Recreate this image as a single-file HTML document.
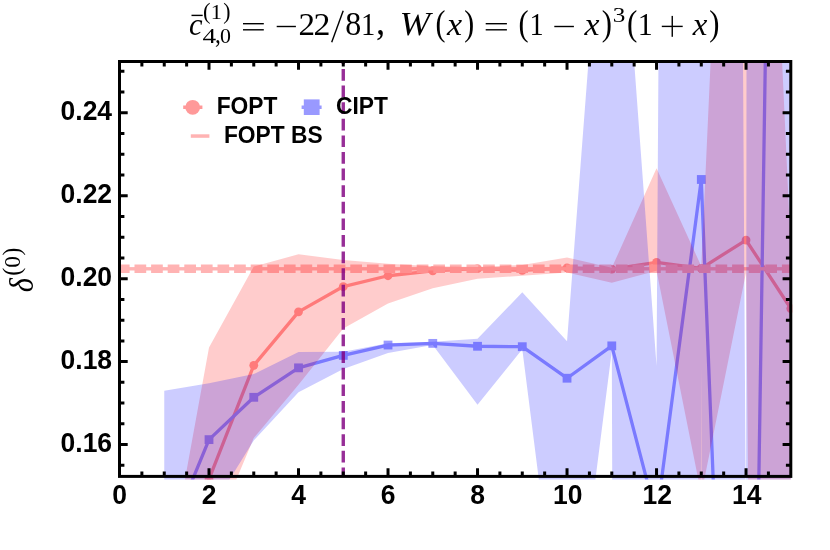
<!DOCTYPE html>
<html><head><meta charset="utf-8"><title>plot</title>
<style>html,body{margin:0;padding:0;background:#fff;}svg{display:block;}text{font-family:"Liberation Sans",sans-serif;}.tx{filter:grayscale(1);}.ser{font-family:"Liberation Serif",serif;}</style></head><body>
<svg width="830" height="550" viewBox="0 0 830 550">
<rect width="830" height="550" fill="#fff"/>
<defs><clipPath id="cp"><rect x="118.00" y="60.00" width="674.30" height="419.40"/></clipPath></defs>
<g clip-path="url(#cp)">
<g fill="#ff9999">
<polyline points="164.25,610.55 209.01,479.03 253.76,365.36 298.51,311.84 343.27,286.53 388.02,275.75 432.77,270.77 477.53,268.69 522.28,270.35 567.03,267.86 611.79,269.11 656.54,262.47 701.29,268.28 746.05,240.07 790.80,308.52" fill="none" stroke="#ff9999" stroke-width="3.3" stroke-linejoin="round"/>
<circle cx="164.25" cy="610.55" r="4.4"/>
<circle cx="209.01" cy="479.03" r="4.4"/>
<circle cx="253.76" cy="365.36" r="4.4"/>
<circle cx="298.51" cy="311.84" r="4.4"/>
<circle cx="343.27" cy="286.53" r="4.4"/>
<circle cx="388.02" cy="275.75" r="4.4"/>
<circle cx="432.77" cy="270.77" r="4.4"/>
<circle cx="477.53" cy="268.69" r="4.4"/>
<circle cx="522.28" cy="270.35" r="4.4"/>
<circle cx="567.03" cy="267.86" r="4.4"/>
<circle cx="611.79" cy="269.11" r="4.4"/>
<circle cx="656.54" cy="262.47" r="4.4"/>
<circle cx="701.29" cy="268.28" r="4.4"/>
<circle cx="746.05" cy="240.07" r="4.4"/>
<circle cx="790.80" cy="308.52" r="4.4"/>
</g>
<g fill="#9999ff">
<polyline points="164.25,548.32 209.01,439.62 253.76,397.30 298.51,367.85 343.27,355.40 388.02,345.03 432.77,343.37 477.53,346.27 522.28,346.69 567.03,378.22 611.79,345.86 656.54,517.20 701.29,179.49 746.05,1307.54 790.80,-1588.29" fill="none" stroke="#9999ff" stroke-width="3.3" stroke-linejoin="round"/>
<rect x="159.85" y="543.92" width="8.8" height="8.8"/>
<rect x="204.61" y="435.22" width="8.8" height="8.8"/>
<rect x="249.36" y="392.90" width="8.8" height="8.8"/>
<rect x="294.11" y="363.45" width="8.8" height="8.8"/>
<rect x="338.87" y="351.00" width="8.8" height="8.8"/>
<rect x="383.62" y="340.63" width="8.8" height="8.8"/>
<rect x="428.37" y="338.97" width="8.8" height="8.8"/>
<rect x="473.13" y="341.87" width="8.8" height="8.8"/>
<rect x="517.88" y="342.29" width="8.8" height="8.8"/>
<rect x="562.63" y="373.82" width="8.8" height="8.8"/>
<rect x="607.39" y="341.46" width="8.8" height="8.8"/>
<rect x="652.14" y="512.80" width="8.8" height="8.8"/>
<rect x="696.89" y="175.09" width="8.8" height="8.8"/>
<rect x="741.65" y="1303.14" width="8.8" height="8.8"/>
<rect x="786.40" y="-1592.69" width="8.8" height="8.8"/>
</g>
<rect x="119.50" y="267.1" width="671.30" height="3.4" fill="#ffb3b3"/>
<line x1="119.50" y1="268.8" x2="790.80" y2="268.8" stroke="#ffb3b3" stroke-width="8.6" stroke-dasharray="11.7 4.9" stroke-dashoffset="1.6"/>
<polygon points="164.25,593.13 209.01,347.52 253.76,266.62 298.51,254.17 343.27,259.98 388.02,263.71 432.77,266.20 477.53,267.03 522.28,264.96 567.03,257.49 611.79,267.86 656.54,168.29 701.29,266.20 746.05,-717.05 790.80,249.61 790.80,4800.79 746.05,272.43 701.29,494.39 656.54,270.77 611.79,282.80 567.03,272.43 522.28,275.75 477.53,278.65 432.77,288.19 388.02,303.54 343.27,328.44 298.51,384.86 253.76,437.96 209.01,545.00 164.25,693.52" fill="#f00" fill-opacity="0.2"/>
<polygon points="164.25,390.67 209.01,383.20 253.76,374.07 298.51,352.08 343.27,351.67 388.02,343.37 432.77,341.71 477.53,338.81 522.28,292.34 567.03,341.30 611.79,-242.43 656.54,365.77 701.29,-6774.22 746.05,556.62 790.80,-48676.60 790.80,42595.90 746.05,42595.90 701.29,365.77 656.54,13554.65 611.79,351.25 567.03,701.82 522.28,349.18 477.53,404.77 432.77,345.03 388.02,352.91 343.27,369.09 298.51,392.33 253.76,440.45 209.01,512.64 164.25,610.55" fill="#00f" fill-opacity="0.2"/>
<line x1="343.27" y1="61.50" x2="343.27" y2="476.40" stroke="#800080" stroke-opacity="0.82" stroke-width="3.4" stroke-dasharray="11.7 4.9" stroke-dashoffset="9.1"/>
</g>
<g stroke="#000" stroke-width="3" fill="none">
<rect x="119.50" y="61.50" width="671.30" height="414.90"/>
<path d="M141.88 476.40v-4.90M141.88 61.50v4.90"/>
<path d="M164.25 476.40v-4.90M164.25 61.50v4.90"/>
<path d="M186.63 476.40v-4.90M186.63 61.50v4.90"/>
<path d="M209.01 476.40v-8.20M209.01 61.50v8.20"/>
<path d="M231.38 476.40v-4.90M231.38 61.50v4.90"/>
<path d="M253.76 476.40v-4.90M253.76 61.50v4.90"/>
<path d="M276.14 476.40v-4.90M276.14 61.50v4.90"/>
<path d="M298.51 476.40v-8.20M298.51 61.50v8.20"/>
<path d="M320.89 476.40v-4.90M320.89 61.50v4.90"/>
<path d="M343.27 476.40v-4.90M343.27 61.50v4.90"/>
<path d="M365.64 476.40v-4.90M365.64 61.50v4.90"/>
<path d="M388.02 476.40v-8.20M388.02 61.50v8.20"/>
<path d="M410.40 476.40v-4.90M410.40 61.50v4.90"/>
<path d="M432.77 476.40v-4.90M432.77 61.50v4.90"/>
<path d="M455.15 476.40v-4.90M455.15 61.50v4.90"/>
<path d="M477.53 476.40v-8.20M477.53 61.50v8.20"/>
<path d="M499.90 476.40v-4.90M499.90 61.50v4.90"/>
<path d="M522.28 476.40v-4.90M522.28 61.50v4.90"/>
<path d="M544.66 476.40v-4.90M544.66 61.50v4.90"/>
<path d="M567.03 476.40v-8.20M567.03 61.50v8.20"/>
<path d="M589.41 476.40v-4.90M589.41 61.50v4.90"/>
<path d="M611.79 476.40v-4.90M611.79 61.50v4.90"/>
<path d="M634.16 476.40v-4.90M634.16 61.50v4.90"/>
<path d="M656.54 476.40v-8.20M656.54 61.50v8.20"/>
<path d="M678.92 476.40v-4.90M678.92 61.50v4.90"/>
<path d="M701.29 476.40v-4.90M701.29 61.50v4.90"/>
<path d="M723.67 476.40v-4.90M723.67 61.50v4.90"/>
<path d="M746.05 476.40v-8.20M746.05 61.50v8.20"/>
<path d="M768.42 476.40v-4.90M768.42 61.50v4.90"/>
<path d="M119.50 465.34h4.90M790.80 465.34h-4.90"/>
<path d="M119.50 444.60h8.20M790.80 444.60h-8.20"/>
<path d="M119.50 423.86h4.90M790.80 423.86h-4.90"/>
<path d="M119.50 403.11h4.90M790.80 403.11h-4.90"/>
<path d="M119.50 382.37h4.90M790.80 382.37h-4.90"/>
<path d="M119.50 361.62h8.20M790.80 361.62h-8.20"/>
<path d="M119.50 340.88h4.90M790.80 340.88h-4.90"/>
<path d="M119.50 320.14h4.90M790.80 320.14h-4.90"/>
<path d="M119.50 299.39h4.90M790.80 299.39h-4.90"/>
<path d="M119.50 278.65h8.20M790.80 278.65h-8.20"/>
<path d="M119.50 257.91h4.90M790.80 257.91h-4.90"/>
<path d="M119.50 237.16h4.90M790.80 237.16h-4.90"/>
<path d="M119.50 216.42h4.90M790.80 216.42h-4.90"/>
<path d="M119.50 195.67h8.20M790.80 195.67h-8.20"/>
<path d="M119.50 174.93h4.90M790.80 174.93h-4.90"/>
<path d="M119.50 154.19h4.90M790.80 154.19h-4.90"/>
<path d="M119.50 133.44h4.90M790.80 133.44h-4.90"/>
<path d="M119.50 112.70h8.20M790.80 112.70h-8.20"/>
<path d="M119.50 91.96h4.90M790.80 91.96h-4.90"/>
<path d="M119.50 71.21h4.90M790.80 71.21h-4.90"/>
</g>
<g class="tx" font-size="26.5" font-weight="bold" fill="#000">
<text transform="translate(112.1 452.20) scale(1 1.07)" text-anchor="end">0.16</text>
<text transform="translate(112.1 369.23) scale(1 1.07)" text-anchor="end">0.18</text>
<text transform="translate(112.1 286.25) scale(1 1.07)" text-anchor="end">0.20</text>
<text transform="translate(112.1 203.28) scale(1 1.07)" text-anchor="end">0.22</text>
<text transform="translate(112.1 120.30) scale(1 1.07)" text-anchor="end">0.24</text>
<text transform="translate(119.50 503.9) scale(1 1.07)" text-anchor="middle">0</text>
<text transform="translate(209.01 503.9) scale(1 1.07)" text-anchor="middle">2</text>
<text transform="translate(298.51 503.9) scale(1 1.07)" text-anchor="middle">4</text>
<text transform="translate(388.02 503.9) scale(1 1.07)" text-anchor="middle">6</text>
<text transform="translate(477.53 503.9) scale(1 1.07)" text-anchor="middle">8</text>
<text transform="translate(567.73 503.9) scale(1 1.07)" text-anchor="middle">10</text>
<text transform="translate(657.24 503.9) scale(1 1.07)" text-anchor="middle">12</text>
<text transform="translate(746.75 503.9) scale(1 1.07)" text-anchor="middle">14</text>
</g>
<g opacity="1">
<g fill="#ff9999" stroke="none"><rect x="183.2" y="105.5" width="19.2" height="3.5"/><circle cx="192.7" cy="107.3" r="7.4"/></g>
<g fill="#9999ff" stroke="none"><rect x="301.6" y="105.5" width="20" height="3.5"/><rect x="303.8" y="99.4" width="15.8" height="15.6"/></g>
<rect x="190.8" y="134.3" width="18.6" height="3.5" fill="#ffb3b3"/>
</g>
<g class="tx" font-size="22.8" font-weight="bold" fill="#000">
<text transform="translate(216.7 114.2) scale(1 1.037)">FOPT</text>
<text transform="translate(336.0 114.2) scale(1 1.037)">CIPT</text>
<text transform="translate(223.9 143.2) scale(1 1.037)">FOPT BS</text>
</g>
<g class="tx" transform="rotate(-90)" fill="#000">
<text class="ser" font-size="100" font-style="italic" transform="matrix(0.3039 0 0 0.3338 -292.21 32.97)">δ</text>
<text class="ser" font-size="100" transform="matrix(0.2369 0 0 0.2534 -275.71 20.31)">(</text>
<text class="ser" font-size="100" transform="matrix(0.2329 0 0 0.2311 -267.67 19.97)">0</text>
<text class="ser" font-size="100" transform="matrix(0.2330 0 0 0.2534 -255.46 20.31)">)</text>
</g>
<g class="tx" fill="#000">
<text class="ser" font-size="100" font-style="italic" transform="matrix(0.3056 0 0 0.3083 189.08 34.69)">c</text>
<text class="ser" font-size="100" transform="matrix(0.2252 0 0 0.2369 202.94 18.77)">(</text>
<text class="ser" font-size="100" transform="matrix(0.2241 0 0 0.2106 210.74 18.90)">1</text>
<text class="ser" font-size="100" transform="matrix(0.2175 0 0 0.2369 223.19 18.77)">)</text>
<text class="ser" font-size="100" transform="matrix(0.2731 0 0 0.2175 202.45 42.70)">4</text>
<text class="ser" font-size="100" transform="matrix(0.2333 0 0 0.2641 215.03 42.71)">,</text>
<text class="ser" font-size="100" transform="matrix(0.2188 0 0 0.2193 220.08 42.98)">0</text>
<text class="ser" font-size="100" transform="matrix(0.3304 0 0 0.3215 298.40 34.60)">2</text>
<text class="ser" font-size="100" transform="matrix(0.3379 0 0 0.3215 313.46 34.60)">2</text>
<text class="ser" font-size="100" transform="matrix(0.3200 0 0 0.3304 345.20 35.17)">8</text>
<text class="ser" font-size="100" transform="matrix(0.2865 0 0 0.3197 360.99 34.60)">1</text>
<text class="ser" font-size="100" transform="matrix(0.3667 0 0 0.4078 376.12 34.18)">,</text>
<text class="ser" font-size="100" font-style="italic" transform="matrix(0.3692 0 0 0.3403 399.40 34.99)">W</text>
<text class="ser" font-size="100" transform="matrix(0.2990 0 0 0.3515 435.53 35.13)">(</text>
<text class="ser" font-size="100" font-style="italic" transform="matrix(0.3400 0 0 0.3174 447.03 35.10)">x</text>
<text class="ser" font-size="100" transform="matrix(0.2990 0 0 0.3515 464.23 35.13)">)</text>
<text class="ser" font-size="100" transform="matrix(0.3029 0 0 0.3515 518.61 35.13)">(</text>
<text class="ser" font-size="100" transform="matrix(0.2837 0 0 0.3242 529.62 34.70)">1</text>
<text class="ser" font-size="100" font-style="italic" transform="matrix(0.3378 0 0 0.3174 584.52 35.10)">x</text>
<text class="ser" font-size="100" transform="matrix(0.3068 0 0 0.3515 601.70 35.13)">)</text>
<text class="ser" font-size="100" transform="matrix(0.2521 0 0 0.2037 612.70 21.70)">3</text>
<text class="ser" font-size="100" transform="matrix(0.3107 0 0 0.3515 626.88 35.13)">(</text>
<text class="ser" font-size="100" transform="matrix(0.3007 0 0 0.3242 637.67 34.70)">1</text>
<text class="ser" font-size="100" font-style="italic" transform="matrix(0.3289 0 0 0.3174 692.71 35.10)">x</text>
<text class="ser" font-size="100" transform="matrix(0.3068 0 0 0.3515 709.20 35.13)">)</text>
<rect x="191.5" y="14.7" width="11.2" height="1.4"/>
<rect x="243.0" y="23.0" width="20.8" height="1.4"/><rect x="243.0" y="29.1" width="20.8" height="1.4"/>
<rect x="485.7" y="23.0" width="21.2" height="1.4"/><rect x="485.7" y="29.1" width="21.2" height="1.4"/>
<rect x="276.7" y="25.8" width="19.2" height="1.4"/>
<rect x="554.3" y="25.8" width="19.6" height="1.4"/>
<rect x="661.8" y="25.7" width="20.9" height="1.4"/><rect x="671.55" y="15.9" width="1.4" height="20.9"/>
<line x1="343.2" y1="10.8" x2="331.7" y2="42.2" stroke="#000" stroke-width="1.4"/>
</g>
</svg></body></html>
